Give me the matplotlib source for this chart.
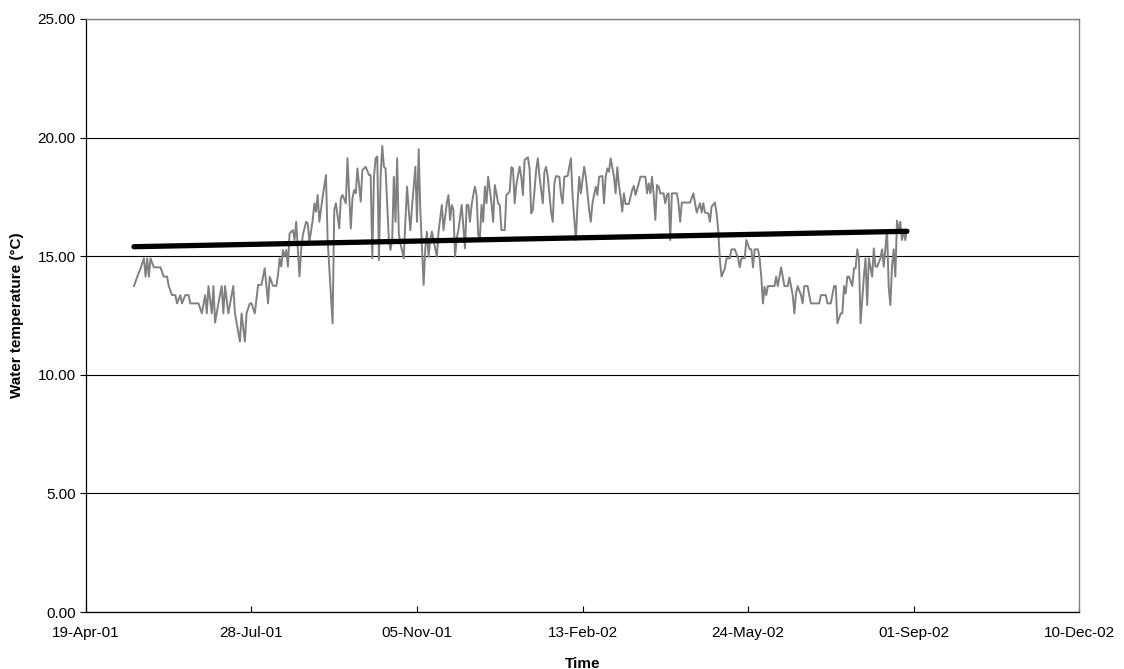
import datetime as dt
import matplotlib
matplotlib.use("Agg")
import matplotlib.pyplot as plt
import matplotlib.dates as mdates
from matplotlib.ticker import FormatStrFormatter

plt.rcParams['font.family'] = ['Liberation Sans', 'DejaVu Sans']

# --- datos: dias desde 19-Apr-2001 y temperatura del agua (°C) ---
start_date = dt.date(2001, 4, 19)

day_offset = [
    29, 31, 33, 35, 36, 37, 38, 39, 41, 45, 47, 49, 50, 52, 54, 55, 57, 58, 60, 62,
    63, 68, 70, 72, 73, 74, 76, 77, 78, 80, 82, 83, 84, 86, 88, 89, 90, 93, 94, 96,
    97, 99, 100, 102,
    104, 106, 108, 110, 111, 113, 115, 116, 117, 118, 119, 120, 121, 122, 123, 125,
    126, 127, 128, 129, 130, 131, 133, 134, 135, 137, 138, 139, 140, 141, 143, 145,
    146, 148, 149, 150, 151, 153, 154, 155, 157, 158, 160, 161, 162, 163, 164, 166,
    167, 169, 171, 172, 173, 174, 175, 176, 177, 178, 179, 180, 181, 183, 184, 185, 186,
    187, 188, 189, 190, 192, 193, 194, 195, 196, 197, 198, 199, 200, 201, 202, 203,
    204, 205, 206, 207, 208, 209, 210, 212, 213, 215, 216, 218, 219, 220, 221, 222,
    223, 224, 225, 227, 229, 230, 231, 232, 233, 234, 235, 236, 237, 238, 239, 240,
    241, 242, 243, 245, 246, 247, 248, 249, 250, 251, 253, 254, 256, 257, 258, 259,
    260, 262, 263, 264, 265,
    267, 268, 269, 270, 272, 273, 274, 276, 277, 278, 279, 281, 282, 283, 284, 286,
    287, 288, 289, 291, 293, 294, 296, 297, 298, 299, 301, 302, 304, 305, 306, 308,
    309, 310, 312, 313, 314, 315, 316, 317, 319, 320, 321, 322, 323, 324, 325, 326,
    328, 330, 331, 332, 334, 335, 338, 339, 340, 341, 342, 343, 344,
    345, 346, 347, 349, 350, 351, 352, 353, 354, 356, 357, 358, 359, 360, 362, 365,
    367, 368, 369, 371, 372, 373, 374, 376, 377, 378, 380, 381, 382, 383, 384, 386,
    387, 389, 390, 392, 394, 395, 396, 398, 399, 401, 402, 403, 404, 406, 407, 408,
    409, 410, 411, 412, 414, 416, 417, 418, 420, 421, 422,
    424, 425, 427, 428, 429, 430, 432, 433, 434, 436, 437, 438, 439, 441, 443, 444,
    446, 447, 448, 450, 452, 453, 454, 456, 457, 458, 459, 460, 461, 463, 464, 465,
    466, 467, 468, 470, 471, 472, 473, 475, 476, 477, 478, 480, 481, 482, 483, 484,
    485, 486, 487, 488, 489, 490, 491, 492, 493, 494, 495, 496,
]

water_temp = [
    13.74, 14.14, 14.49, 14.91, 14.14, 14.91, 14.14, 14.91, 14.53, 14.53, 14.14, 14.14,
    13.74, 13.36, 13.36, 13.01, 13.36, 13.01, 13.36, 13.36, 13.01, 13.01, 12.59, 13.36,
    12.59, 13.74, 12.59, 13.74, 12.20, 13.01, 13.74, 12.59, 13.74, 12.59, 13.36, 13.74,
    12.59, 11.40, 12.59, 11.40, 12.59, 13.01, 13.01, 12.59,
    13.79, 13.79, 14.49, 13.01, 14.14, 13.75, 13.75, 14.21, 14.91, 14.56, 15.26, 14.98,
    15.26, 14.56, 15.96, 16.10, 15.68, 16.45, 15.26, 14.14, 15.26, 15.89, 16.45, 16.38,
    15.61, 16.53, 17.23, 16.88, 17.58, 16.45, 17.51, 18.42, 15.68, 13.29, 12.17, 16.95,
    17.23, 16.17, 17.44, 17.58, 17.23, 19.13, 16.17, 17.44, 17.79, 17.65, 18.70, 17.30,
    18.63, 18.77, 18.42, 18.42, 14.91, 18.35, 19.13, 19.20, 14.84, 18.35, 19.65, 18.77,
    18.70, 15.68, 15.26, 15.68, 18.35,
    16.45, 19.13, 15.96, 15.54, 14.91, 16.53, 17.93, 16.95, 16.10, 17.09, 17.93, 18.77,
    16.45, 19.51, 16.95, 15.33, 13.79, 15.33, 16.03, 14.98, 15.68, 16.03, 15.68, 14.98,
    16.03, 17.16, 16.10, 17.23, 17.58, 16.53, 17.16, 16.95, 14.98, 15.75, 16.10, 17.16,
    15.33, 17.16, 17.16, 16.45, 17.16, 17.58, 17.93, 17.58, 15.89, 15.75, 17.16, 16.45,
    17.93, 17.23, 18.35, 17.23, 16.45, 18.00, 17.65, 17.23, 17.16, 16.10, 16.10, 17.58,
    17.72, 18.75, 18.70, 17.23, 18.00, 18.77, 18.35, 17.58, 19.06,
    19.17, 18.70, 16.81, 16.95, 18.63, 19.13, 18.35, 17.23, 18.56, 18.77, 18.35, 16.88,
    16.45, 18.07, 18.38, 18.35, 17.58, 17.23, 18.35, 18.38, 19.13, 17.51, 15.68, 17.23,
    18.35, 17.65, 18.77, 18.35, 16.95, 16.45, 17.23, 17.93, 17.58, 18.35, 18.38, 17.23,
    18.35, 18.70, 18.56, 19.13, 18.35, 17.65, 18.75, 18.00, 17.51, 16.88, 17.65, 17.20,
    17.20, 17.79, 17.96, 17.58, 18.07, 18.35, 18.35, 17.65, 18.07, 17.65, 18.35, 17.58,
    16.53,
    18.00, 17.93, 17.65, 17.65, 17.23, 17.58, 17.65, 15.68, 17.65, 17.65, 17.65, 17.23,
    16.45, 17.26, 17.26, 17.26, 17.65, 17.23, 16.84, 17.23, 16.84, 17.23, 16.84, 16.81,
    16.45, 17.09, 17.26, 16.81, 16.10, 14.84, 14.14, 14.49, 14.91, 14.91, 15.29, 15.29,
    14.91, 14.53, 14.91, 14.91, 15.68, 15.29, 15.29, 14.53, 15.29, 15.29, 14.91, 14.14,
    13.01, 13.71, 13.36, 13.74, 13.74, 13.74, 14.14, 13.74, 14.53, 14.14, 13.74,
    13.74, 14.10, 13.36, 12.59, 13.43, 13.74, 13.36, 13.01, 13.74, 13.74, 13.36, 13.01,
    13.01, 13.01, 13.01, 13.36, 13.36, 13.36, 13.01, 13.01, 13.74, 13.74, 12.17, 12.59,
    12.59, 13.74, 13.43, 14.14, 14.14, 13.74, 14.49, 14.49, 15.29, 14.91, 12.17, 14.14,
    14.91, 12.94, 14.91, 14.14, 15.33, 14.56, 14.56, 14.91, 15.29, 14.56, 15.33, 16.10,
    13.71, 12.94, 14.56, 15.29, 14.14, 16.50, 16.10, 16.45, 15.68, 16.10, 15.68, 16.10,
]

# linea de tendencia (valores en los extremos de la serie)
trend_values = [15.40, 16.05]

x_ticks = [start_date + dt.timedelta(days=100 * i) for i in range(7)]
y_ticks = [0, 5, 10, 15, 20, 25]

dates = [start_date + dt.timedelta(days=d) for d in day_offset]
trend_dates = [dates[0], dates[-1]]

fig = plt.figure(figsize=(11.24, 6.69), dpi=100)
ax = fig.add_axes([0.0765, 0.0852, 0.8835, 0.8864])

ax.plot(dates, water_temp, color='#808080', linewidth=1.4, zorder=3)
ax.plot(trend_dates, trend_values, color='black', linewidth=3.8,
        solid_capstyle='round', zorder=4)

ax.set_xlim(x_ticks[0], x_ticks[-1])
ax.set_ylim(0, 25)
ax.set_xticks(x_ticks)
ax.set_yticks(y_ticks)
ax.xaxis.set_major_formatter(mdates.DateFormatter('%d-%b-%y'))
ax.yaxis.set_major_formatter(FormatStrFormatter('%.2f'))

ax.grid(axis='y', color='black', linewidth=0.8, zorder=1)
ax.tick_params(axis='x', direction='in', length=4, labelsize=11, pad=10)
ax.tick_params(axis='y', direction='out', length=4, labelsize=11)

for side in ['left', 'bottom']:
    ax.spines[side].set_color('black')
    ax.spines[side].set_linewidth(0.9)
for side in ['top', 'right']:
    ax.spines[side].set_color('#808080')
    ax.spines[side].set_linewidth(1.0)

ax.set_xlabel('Time', fontsize=11, fontweight='bold', labelpad=12)
ax.set_ylabel('Water temperature (°C)', fontsize=11, fontweight='bold', labelpad=10)

fig.savefig('out.png', dpi=100)
